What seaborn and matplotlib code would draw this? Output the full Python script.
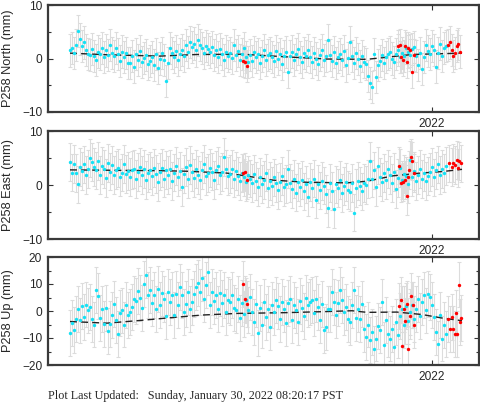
import numpy as np
import pandas as pd
import seaborn as sns
import matplotlib.pyplot as plt
from matplotlib.ticker import MultipleLocator, FixedLocator

# station P258, daily positions; day 0 = 2021-01-01, 2022 starts at day 365
CYAN_START = 3
CYAN_STEP = 2

north_cyan = [1.5, 2.0, 1.1, 2.6, 5.1, 3.6, 2.3, 3.0, 1.6, 0.9,
              0.6, 1.8, 0.4, -0.2, 1.3, 0.9, 2.0, 0.3, 1.5, 0.7,
              2.6, 1.1, 0.5, 1.9, 0.8, -0.4, 1.3, 0.2, 1.0, -0.9,
              -0.8, 0.4, -1.5, 0.9, -0.2, 1.4, -0.7, 0.1, 0.6, -1.1,
              -0.4, 0.3, -1.2, 0.8, -1.7, 0.0, 1.1, -0.3, -4.2, -0.9,
              1.9, 1.0, 0.3, 1.4, -0.2, 0.9, 1.6, 0.5, 2.5, 1.2,
              3.1, 2.2, 2.8, 1.5, 3.4, 2.6, 1.9, 1.0, 2.4, 1.7,
              1.2, 2.1, 0.6, 1.5, 0.2, 1.8, 0.9, -0.3, 1.3, 0.4,
              1.0, 0.1, 2.5, 0.6, 1.4, -0.2, 0.8, 1.9, 0.3, -0.6,
              0.7, -0.5, 1.2, 0.2, 0.9, -0.8, 0.4, 1.5, -0.2, 0.6,
              1.1, 0.3, -0.4, 1.4, 0.0, 0.8, -1.0, 0.5, 1.2, -2.6,
              0.4, 1.3, -0.3, 0.9, 1.8, 0.2, -0.7, 1.0, 0.5, 1.6,
              0.3, -0.6, 1.1, 0.0, -1.0, 0.7, 1.5, -0.3, 0.4, 3.5,
              0.6, -0.4, 1.2, -0.9, 0.2, 0.9, -0.2, 1.4, -1.3, 0.1,
              3.0, 0.5, -0.8, 1.1, -0.1, -1.4, 0.4, -0.6, -1.0, -3.3,
              -4.6, -5.4, 0.8, -3.5, -1.2, -0.4, 0.6, -0.9, 0.2, 0.9,
              1.2, 0.0, -0.6, 0.8, 1.6, 0.3, 1.0, 0.5, 2.0, 1.3,
              0.7, 1.8, 2.2, 0.4, -1.2, 1.0, -2.0, 0.2, 2.5, 1.4,
              0.9, 2.3, 1.6, -1.5, 1.1, 2.8, 0.5, 1.9, 2.4]
east_cyan = [4.2, 2.3, 3.9, 2.2, 0.1, 3.4, 2.6, 3.8, 1.9, 3.0,
             5.0, 4.2, 3.4, 2.7, 4.4, 1.8, 3.6, 2.9, 1.3, 4.1,
             2.5, 3.7, 1.9, 2.8, 3.2, 1.4, 2.3, 3.9, 2.0, 2.6,
             1.5, 2.8, 3.0, 1.1, 2.4, 3.4, 1.8, 2.9, 0.9, 2.2,
             2.7, 1.6, 3.2, 2.0, 0.6, 2.5, 3.1, 1.2, 2.8, 1.9,
             2.9, 0.8, 2.3, 3.5, 1.5, 2.6, -0.4, 2.0, 3.3, 1.1,
             3.7, 2.4, 1.3, 3.0, 1.9, 0.9, 2.7, 3.9, 1.6, 2.2,
             3.2, 2.5, 1.0, 2.8, 3.6, 1.8, 2.4, 5.2, 2.9, 1.6,
             2.1, 3.0, 1.2, 2.6, 1.7, 0.8, 2.2, 1.4, 0.6, 1.9,
             1.2, 0.3, 2.0, 0.7, -0.3, 1.5, 0.2, 1.0, 2.3, -0.6,
             0.8, -0.2, 1.4, 0.4, -1.0, 0.6, 1.7, -0.4, 0.2, 3.0,
             0.3, -0.8, 1.1, -1.4, 0.5, -0.3, 0.9, -1.2, 0.1, -2.2,
             0.6, -0.5, 1.2, -2.7, 0.2, -1.0, 0.8, -0.1, -1.6, -4.2,
             0.4, -1.1, -4.4, 0.1, -0.6, 0.9, -1.5, -0.2, 0.5, -0.9,
             -1.3, 0.3, -5.1, -0.5, 0.8, -0.2, -1.2, 0.4, 0.0, 1.1,
             4.4, 1.2, 2.7, -0.3, 3.6, 1.5, 0.6, 2.2, 1.0, 2.9,
             1.8, 0.4, 2.4, -0.8, 1.3, 3.2, 0.9, 2.1, 1.6, 0.2,
             4.6, 1.5, 2.6, 0.8, 1.9, 3.0, 1.1, 2.3, 0.7, 1.7,
             2.4, 3.3, 1.4, 2.7, 3.8, 1.9, 2.9, 2.2, 3.5]
up_cyan = [-8.2, -4.6, -7.0, -2.8, 0.6, -3.5, 1.8, -2.2, 2.4, 0.2,
           1.6, -3.0, -5.0, 7.7, 5.4, -2.6, 0.8, -4.8, 1.2, -7.3,
           -4.7, -1.6, 2.7, -3.2, -8.4, -0.6, 0.2, -5.0, 2.3, -1.4,
           -0.4, 1.5, 4.3, 3.6, 7.3, 4.8, 1.2, 10.1, 13.2, 5.8,
           7.7, 3.0, 5.8, 0.8, 8.3, 2.1, 6.5, 4.4, -1.8, 7.0,
           3.3, 5.8, -1.6, 6.4, 2.1, 9.0, 5.8, -0.5, 2.6, 7.2,
           0.9, 3.4, 6.4, 8.9, 10.4, 6.9, 12.2, 4.5, 9.6, 14.3,
           2.1, 7.0, 3.6, 5.8, 0.6, 6.6, 2.9, 5.9, -0.4, 4.0,
           3.3, 5.8, 1.0, 0.2, 4.6, -2.6, 2.8, -1.0, 3.9, 0.5,
           5.2, -0.4, -4.1, 2.6, -8.0, 1.1, -5.3, 3.4, -2.2, 0.7,
           -6.0, 2.1, -0.4, 4.0, 1.9, -2.9, 3.3, 0.8, -4.4, 2.8,
           4.6, -3.5, 2.1, 0.5, -4.1, 3.6, 1.2, -1.8, 5.0, 2.4,
           3.3, 4.0, -0.8, 4.6, 1.5, -3.3, 2.5, -7.2, -6.0, 0.9,
           0.9, 7.0, 3.3, -1.5, 2.8, 7.7, 4.2, -0.4, 1.6, -2.9,
           -4.0, 2.2, 7.7, -2.5, 0.9, -3.0, 2.7, -6.5, -9.6, -5.0,
           -10.9, -7.8, -14.0, -10.2, -5.6, -7.2, 3.3, -12.6, -3.3, -8.6,
           -10.2, -6.5, -13.2, -4.1, -9.0, -2.0, 0.8, -5.3, 1.8, -3.6,
           -0.4, 2.1, -3.0, 0.9, 4.6, -1.8, 3.3, 5.8, 0.2, 6.4,
           5.2, 2.1, -2.2, -7.8, -12.1, -1.5, -10.2, -5.3, -8.6]

# rapid solutions (red)
north_red_days = [176, 178, 180, 331, 333, 334, 336, 338, 340, 341, 343, 345, 347,
                  381, 383, 385, 386, 388, 390, 391, 393]
north_red = [-0.4, -0.6, -1.4, 2.4, 2.6, 0.2, -0.2, 2.3, -0.6, 1.9, 1.5, -2.6, 0.7,
             2.5, 3.0, 1.6, 0.5, 1.0, 2.3, 2.7, 1.3]
east_red_days = [176, 178, 180, 332, 334, 336, 338, 340, 341, 342, 344, 345, 347,
                 382, 385, 386, 388, 390, 391, 392, 394]
east_red = [2.3, 2.4, 0.9, 3.6, 0.3, 0.5, 1.0, -2.0, 1.4, 2.8, 5.1, 4.4, 2.2,
            4.0, 3.3, 4.1, 3.7, 4.6, 3.1, 4.5, 4.0]
up_red_days = [176, 178, 180, 332, 334, 335, 337, 338, 340, 341, 343, 344, 346, 347,
               381, 383, 385, 386, 388, 389, 390, 392, 393, 394]
up_red = [10.1, 4.3, 2.7, 2.0, 4.0, -12.8, 0.8, -3.7, 2.7, -14.1, -1.8, 5.7, 2.1, -5.2,
          -2.8, -6.5, -2.2, -6.5, -8.4, -0.6, -8.4, 9.8, -4.1, -2.6]

# typical 1-sigma uncertainties (mm)
north_err = 3.0
east_err = 3.5
up_err = 8.5

# model curves
north_trend_days = [3, 40, 93, 130, 175, 220, 260, 300, 318, 345, 395]
north_trend = [1.0, 0.7, 0.45, 0.75, 0.8, 0.3, -0.1, -0.15, 0.2, 0.75, 1.0]
east_trend_days = [3, 60, 93, 120, 160, 185, 206, 240, 280, 300, 326, 353, 376, 395]
east_trend = [2.8, 2.7, 2.65, 2.55, 2.2, 1.5, 0.9, 0.5, 0.4, 0.7, 1.7, 2.2, 2.5, 2.9]
up_trend_days = [3, 40, 70, 100, 135, 170, 220, 260, 285, 300, 330, 355, 375, 395]
up_trend = [-3.9, -4.5, -3.6, -2.6, -1.5, -0.9, -0.6, -0.2, 0.1, -0.5, -0.4, -1.3, -2.6, -3.6]

panels = [
    ('P258 North (mm)', north_cyan, north_red_days, north_red, north_err,
     north_trend_days, north_trend, 10),
    ('P258 East (mm)', east_cyan, east_red_days, east_red, east_err,
     east_trend_days, east_trend, 10),
    ('P258 Up (mm)', up_cyan, up_red_days, up_red, up_err,
     up_trend_days, up_trend, 20),
]

sns.set_style('ticks')
plt.rcParams['font.family'] = ['Liberation Sans', 'DejaVu Sans']

fig = plt.figure(figsize=(4.81, 4.04), dpi=100)
left, width = 48 / 481, 431 / 481
tops = [5, 131, 257]
bottoms = [112, 239, 365]

for i, (label, cyan, rdays, red, err, tdays, trend, lim) in enumerate(panels):
    ax = fig.add_axes([left, 1 - bottoms[i] / 404, width, (bottoms[i] - tops[i]) / 404])
    cdays = np.arange(CYAN_START, CYAN_START + CYAN_STEP * len(cyan), CYAN_STEP)
    df = pd.DataFrame({'day': cdays, 'val': cyan})
    dr = pd.DataFrame({'day': rdays, 'val': red})

    ax.errorbar(df['day'], df['val'], yerr=err, fmt='none', ecolor='#dcdcdc',
                elinewidth=0.8, capsize=1.6, capthick=0.8, zorder=1)
    ax.errorbar(dr['day'], dr['val'], yerr=err, fmt='none', ecolor='#dcdcdc',
                elinewidth=0.8, capsize=1.6, capthick=0.8, zorder=1)
    sns.lineplot(x=tdays, y=trend, ax=ax, color='#222222', lw=1.0,
                 linestyle=(0, (5, 3)), zorder=2)
    sns.scatterplot(data=df, x='day', y='val', ax=ax, color='#14e1f5', s=6,
                    linewidth=0, zorder=3)
    sns.scatterplot(data=dr, x='day', y='val', ax=ax, color='#ff0000', s=6,
                    linewidth=0, zorder=4)

    ax.set_xlim(-19, 412)
    ax.set_ylim(-lim, lim)
    ax.xaxis.set_major_locator(FixedLocator([365]))
    ax.set_xticklabels(['2022'])
    ax.yaxis.set_major_locator(MultipleLocator(10))
    ax.yaxis.set_minor_locator(MultipleLocator(5))
    ax.tick_params(which='both', direction='in', top=True, right=True,
                   labelsize=8.6, color='#333333', width=0.8)
    ax.tick_params(which='major', length=3.5, pad=4.3)
    ax.tick_params(which='minor', length=2.2)
    ax.set_xlabel('')
    ax.set_ylabel(label, fontsize=9.2, va='center')
    ax.yaxis.set_label_coords(-0.093, 0.5)
    for sp in ax.spines.values():
        sp.set_color('#3a3a3a')
        sp.set_linewidth(1.6)

fig.text(48 / 481, 1 - 396 / 404,
         'Plot Last Updated:   Sunday, January 30, 2022 08:20:17 PST',
         family='Liberation Serif', fontsize=8.7, va='center', ha='left')

fig.savefig('out.png', dpi=100)
